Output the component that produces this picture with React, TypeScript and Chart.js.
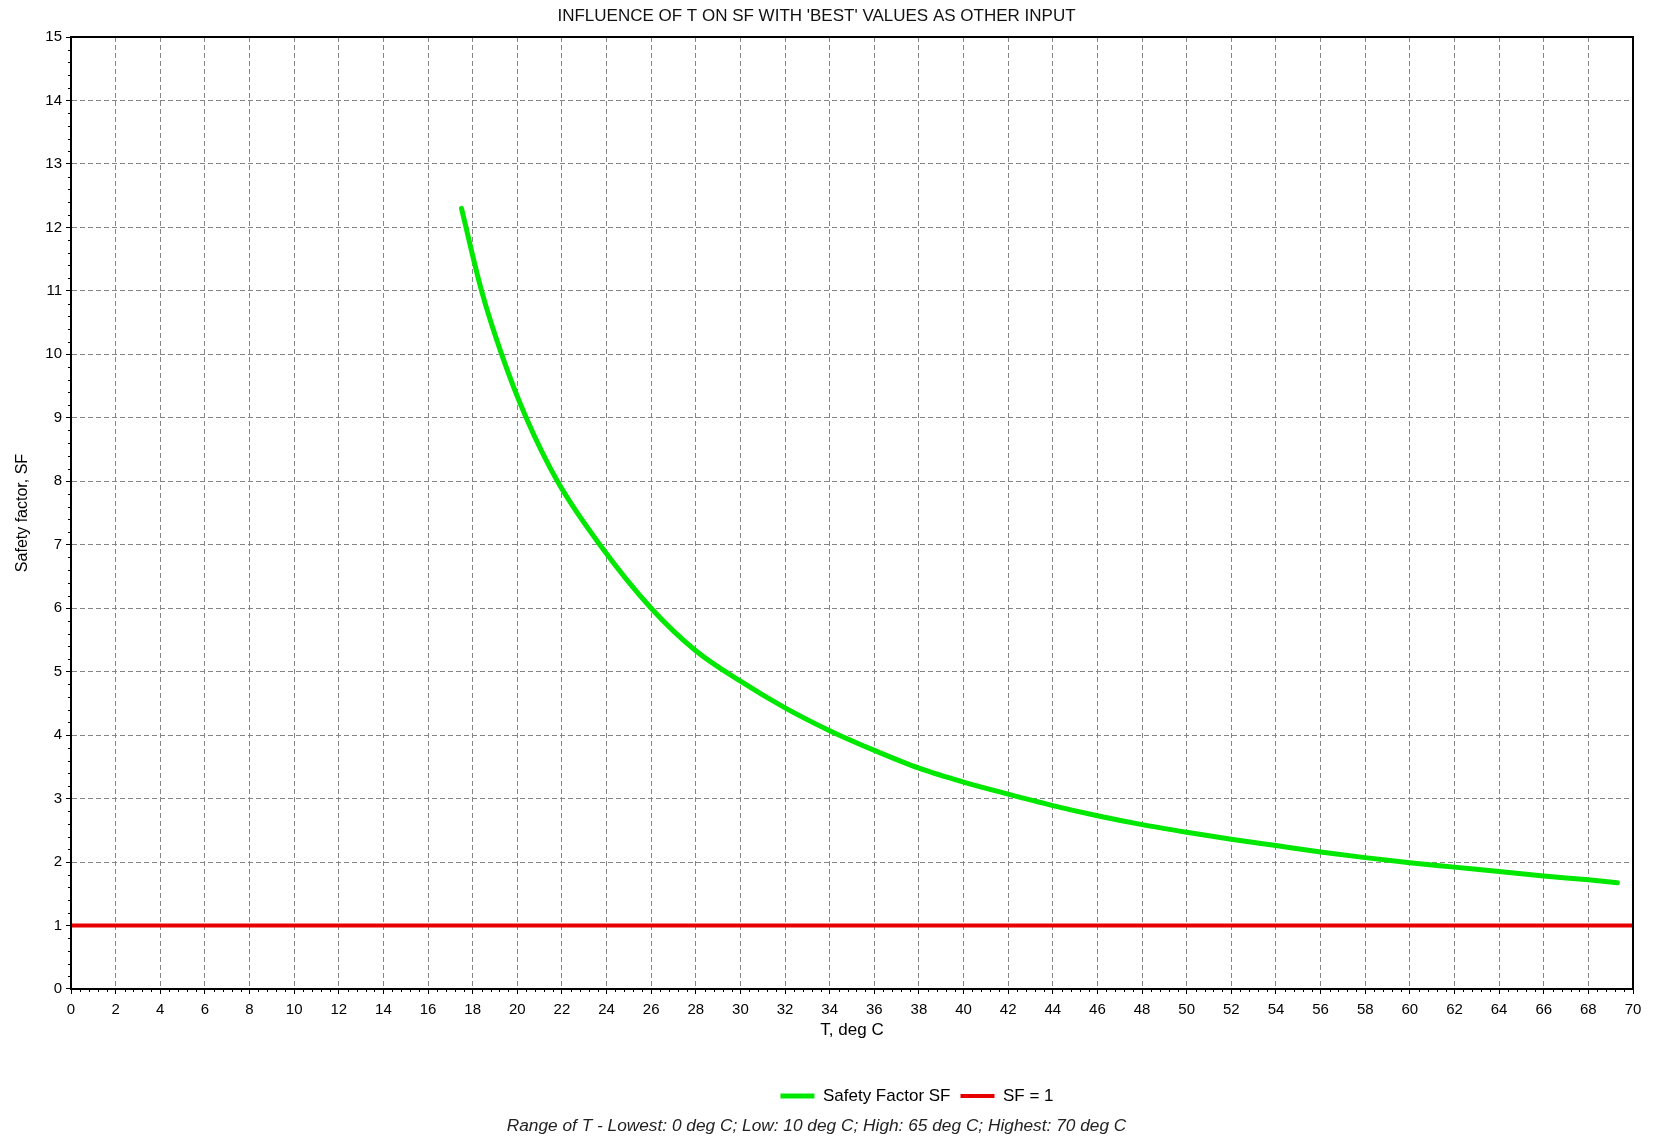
import { useEffect, useRef } from "react";
import { Chart, registerables } from "chart.js";

Chart.register(...registerables);

// ---------- data ----------
const titleText = "INFLUENCE OF T ON SF WITH 'BEST' VALUES AS OTHER INPUT";
const noteText = "Range of T - Lowest: 0 deg C; Low: 10 deg C; High: 65 deg C; Highest: 70 deg C";
const xAxisTitle = "T, deg C";
const yAxisTitle = "Safety factor, SF";
const seriesNames = ["Safety Factor SF", "SF = 1"];

const sfT = [17.5, 18.4, 19.3, 20.4, 21.8, 23.7, 26, 28, 30, 32, 34, 36, 38, 40, 42, 44, 46, 48, 50, 52, 54, 56, 58, 60, 62, 64, 66, 68, 69.3];
const sfValues = [12.3, 11.0, 10.0, 9.0, 8.0, 7.0, 6.0, 5.33, 4.85, 4.43, 4.07, 3.76, 3.48, 3.26, 3.07, 2.89, 2.73, 2.59, 2.47, 2.36, 2.26, 2.16, 2.07, 1.99, 1.92, 1.85, 1.78, 1.72, 1.675];

const limitT = [0, 70];
const limitValues = [1, 1];

const xMin = 0;
const xMax = 70;
const xStep = 2;
const xMinorStep = 0.4;
const yMin = 0;
const yMax = 15;
const yStep = 1;
const yMinorStep = 0.2;

// ---------- styling ----------
const FONT = "'Liberation Sans', Arial, 'DejaVu Sans', sans-serif";
const GREEN = "#00e800";
const RED = "#e80000";
const GRID = "#858585";

const isMultiple = (v: number, step: number) => Math.abs(v / step - Math.round(v / step)) < 1e-6;

const framePlugin = {
  id: "frameAndMinorTicks",
  afterLayout(chart: any) {
    const lg = chart.legend;
    if (lg) {
      const center = 917;
      lg.left = 2 * center - lg.right;
      lg.width = lg.right - lg.left;
    }
  },
  afterDraw(chart: any) {
    const { ctx, chartArea, scales } = chart;
    const x = scales.x;
    const y = scales.y;
    ctx.save();
    ctx.strokeStyle = "#000";
    ctx.lineWidth = 1;
    ctx.setLineDash([]);
    ctx.beginPath();
    const nx = Math.round((xMax - xMin) / xMinorStep);
    for (let i = 0; i <= nx; i++) {
      const v = xMin + i * xMinorStep;
      if (isMultiple(v, xStep)) continue;
      const px = Math.round(x.getPixelForValue(v)) + 0.5;
      ctx.moveTo(px, chartArea.bottom);
      ctx.lineTo(px, chartArea.bottom + 3);
    }
    const ny = Math.round((yMax - yMin) / yMinorStep);
    for (let i = 0; i <= ny; i++) {
      const v = yMin + i * yMinorStep;
      if (isMultiple(v, yStep)) continue;
      const py = Math.round(y.getPixelForValue(v)) + 0.5;
      ctx.moveTo(chartArea.left, py);
      ctx.lineTo(chartArea.left - 3, py);
    }
    ctx.stroke();
    ctx.lineWidth = 2;
    ctx.strokeRect(chartArea.left, chartArea.top, chartArea.right - chartArea.left, chartArea.bottom - chartArea.top);
    ctx.restore();
  },
};

export default function App() {
  const ref = useRef<HTMLCanvasElement | null>(null);

  useEffect(() => {
    if (!ref.current) return;
    const chart = new Chart(ref.current, {
      type: "line",
      data: {
        datasets: [
          {
            label: seriesNames[0],
            data: sfT.map((t, i) => ({ x: t, y: sfValues[i] })),
            borderColor: GREEN,
            backgroundColor: GREEN,
            borderWidth: 5,
            borderCapStyle: "round",
            borderJoinStyle: "round",
            pointRadius: 0,
            pointHoverRadius: 0,
            cubicInterpolationMode: "monotone",
            fill: false,
          },
          {
            label: seriesNames[1],
            data: limitT.map((t, i) => ({ x: t, y: limitValues[i] })),
            borderColor: RED,
            backgroundColor: RED,
            borderWidth: 4,
            pointRadius: 0,
            pointHoverRadius: 0,
            fill: false,
          },
        ],
      },
      options: {
        responsive: false,
        animation: false,
        events: [],
        layout: { padding: { left: 0, right: 30, top: 0, bottom: 0 } },
        scales: {
          x: {
            type: "linear",
            min: xMin,
            max: xMax,
            afterFit: (s: any) => {
              s.height = 88.5;
            },
            ticks: {
              stepSize: xStep,
              autoSkip: false,
              maxRotation: 0,
              color: "#000",
              padding: 7,
              font: { family: FONT, size: 15 },
            },
            grid: {
              color: GRID,
              lineWidth: 1,
              drawTicks: true,
              tickLength: 5,
              tickColor: "#000",
              tickWidth: 1,
              tickBorderDash: [],
            },
            border: { display: true, color: "#000", width: 2, dash: [5, 3] },
            title: {
              display: true,
              text: xAxisTitle,
              color: "#000",
              font: { family: FONT, size: 17 },
              padding: { top: 0, bottom: 37.3 },
            },
          },
          y: {
            type: "linear",
            min: yMin,
            max: yMax,
            afterFit: (s: any) => {
              s.width = 71;
            },
            ticks: {
              stepSize: yStep,
              color: "#000",
              padding: 4,
              font: { family: FONT, size: 15 },
            },
            grid: {
              color: GRID,
              lineWidth: 1,
              drawTicks: true,
              tickLength: 5,
              tickColor: "#000",
              tickWidth: 1,
              tickBorderDash: [],
            },
            border: { display: true, color: "#000", width: 2, dash: [5, 3] },
            title: {
              display: true,
              text: yAxisTitle,
              color: "#000",
              font: { family: FONT, size: 16 },
              padding: { top: 13.4, bottom: 0 },
            },
          },
        },
        plugins: {
          title: {
            display: true,
            text: titleText,
            color: "#111",
            font: { family: FONT, size: 17, weight: "normal" },
            padding: { top: 5.8, bottom: 10.8 },
          },
          subtitle: {
            display: true,
            position: "bottom",
            text: noteText,
            color: "#222",
            font: { family: FONT, size: 17.3, style: "italic", lineHeight: 1.33 },
            padding: { top: 0, bottom: 6.5 },
          },
          legend: {
            display: true,
            position: "bottom",
            labels: {
              color: "#000",
              font: { family: FONT, size: 17 },
              usePointStyle: true,
              pointStyle: "line",
              pointStyleWidth: 34,
              padding: 10,
            },
          },
          tooltip: { enabled: false },
        },
      },
      plugins: [framePlugin],
    } as any);
    return () => chart.destroy();
  }, []);

  return (
    <div style={{ position: "fixed", left: 0, top: 0, width: 1663, height: 1144, background: "#fff" }}>
      <canvas ref={ref} width={1663} height={1144} style={{ display: "block" }} />
    </div>
  );
}
